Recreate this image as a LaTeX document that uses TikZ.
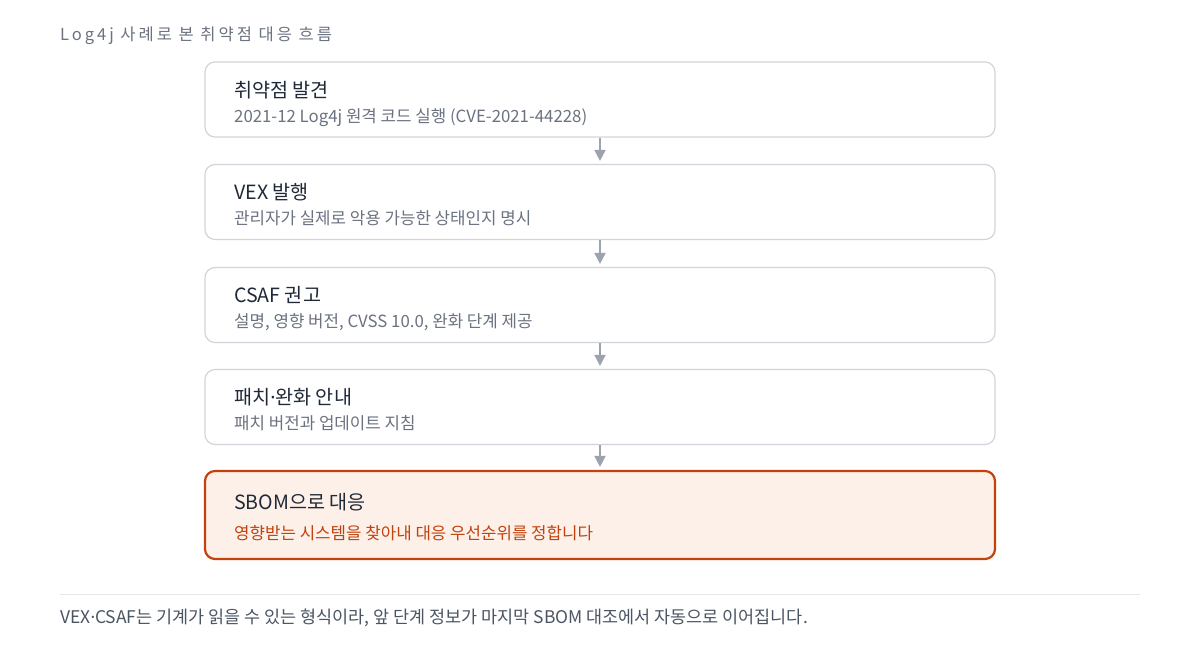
\documentclass[tikz,border=0pt]{standalone}
\usepackage{fontspec}
\setmainfont{Noto Sans CJK KR}
\newfontfamily\spaced{Noto Sans CJK KR}[LetterSpace=18]
\newfontfamily\latindot{Noto Sans}
\newcommand{\mdot}{{\latindot ·}}
\usepackage{tikz}
\usetikzlibrary{arrows.meta}

\definecolor{ink}{HTML}{1F2937}
\definecolor{muted}{HTML}{4B5563}
\definecolor{soft}{HTML}{6B7280}
\definecolor{edge}{HTML}{D1D5DB}
\definecolor{flow}{HTML}{9CA3AF}
\definecolor{rust}{HTML}{C2410C}
\definecolor{peach}{HTML}{FDF0E8}
\definecolor{rule}{HTML}{E5E7EB}

\begin{document}
\begin{tikzpicture}[x=1pt,y=-1pt]
\pgfmathsetmacro{\midX}{600}

\tikzstyle{stepbox}=[draw=edge,line width=1.2pt,fill=white,rounded corners=10pt,minimum width=790pt,minimum height=75pt,inner sep=0pt]
\tikzstyle{goalbox}=[stepbox,draw=rust,line width=2.2pt,fill=peach,minimum height=88pt]
\tikzstyle{head}=[anchor=base west,inner sep=0pt,text=ink,font=\fontsize{19.6}{22}\selectfont]
\tikzstyle{sub}=[anchor=base west,inner sep=0pt,text=soft,font=\fontsize{16.8}{19}\selectfont]
\tikzstyle{flowarrow}=[draw=flow,line width=1.8pt,-{Triangle[length=11pt,width=11pt]},shorten >=3pt]

\useasboundingbox (0,0) rectangle (1200,653);
\fill[white] (0,0) rectangle (1200,653);

\node[anchor=base west,inner sep=0pt,text=soft,font=\spaced\fontsize{16.5}{18}\selectfont] (title) at (60,40) {Log4j 사례로 본 취약점 대응 흐름};

% steps
\node[stepbox] (find) at (\midX,99.5) {};
\node[stepbox] (vex) at (\midX,202) {};
\node[stepbox] (csaf) at (\midX,305) {};
\node[stepbox] (patch) at (\midX,407) {};
\node[goalbox] (sbom) at (\midX,515) {};

\node[head] (findT) at (234,97) {취약점 발견};
\node[sub] (findS) at (234,122) {2021-12 Log4j 원격 코드 실행 (CVE-2021-44228)};
\node[head] (vexT) at (234,199) {VEX 발행};
\node[sub] (vexS) at (234,224) {관리자가 실제로 악용 가능한 상태인지 명시};
\node[head] (csafT) at (234,302) {CSAF 권고};
\node[sub] (csafS) at (234,327) {설명, 영향 버전, CVSS 10.0, 완화 단계 제공};
\node[head] (patchT) at (234,404) {패치\mdot 완화 안내};
\node[sub] (patchS) at (234,429) {패치 버전과 업데이트 지침};
\node[head] (sbomT) at (234,509) {SBOM으로 대응};
\node[sub,text=rust] (sbomS) at (234,539) {영향받는 시스템을 찾아내 대응 우선순위를 정합니다};

\foreach \a/\b in {find/vex,vex/csaf,csaf/patch,patch/sbom}
  \draw[flowarrow] (\a.south) -- (\b.north);

\coordinate (ruleL) at (60,594);
\coordinate (ruleR) at (1140,594);
\draw[rule,line width=1pt] (ruleL) -- (ruleR);
\node[anchor=base west,inner sep=0pt,text=muted,font=\fontsize{17.45}{20}\selectfont] (note) at (60,623) {VEX\mdot CSAF는 기계가 읽을 수 있는 형식이라, 앞 단계 정보가 마지막 SBOM 대조에서 자동으로 이어집니다.};
\end{tikzpicture}
\end{document}
